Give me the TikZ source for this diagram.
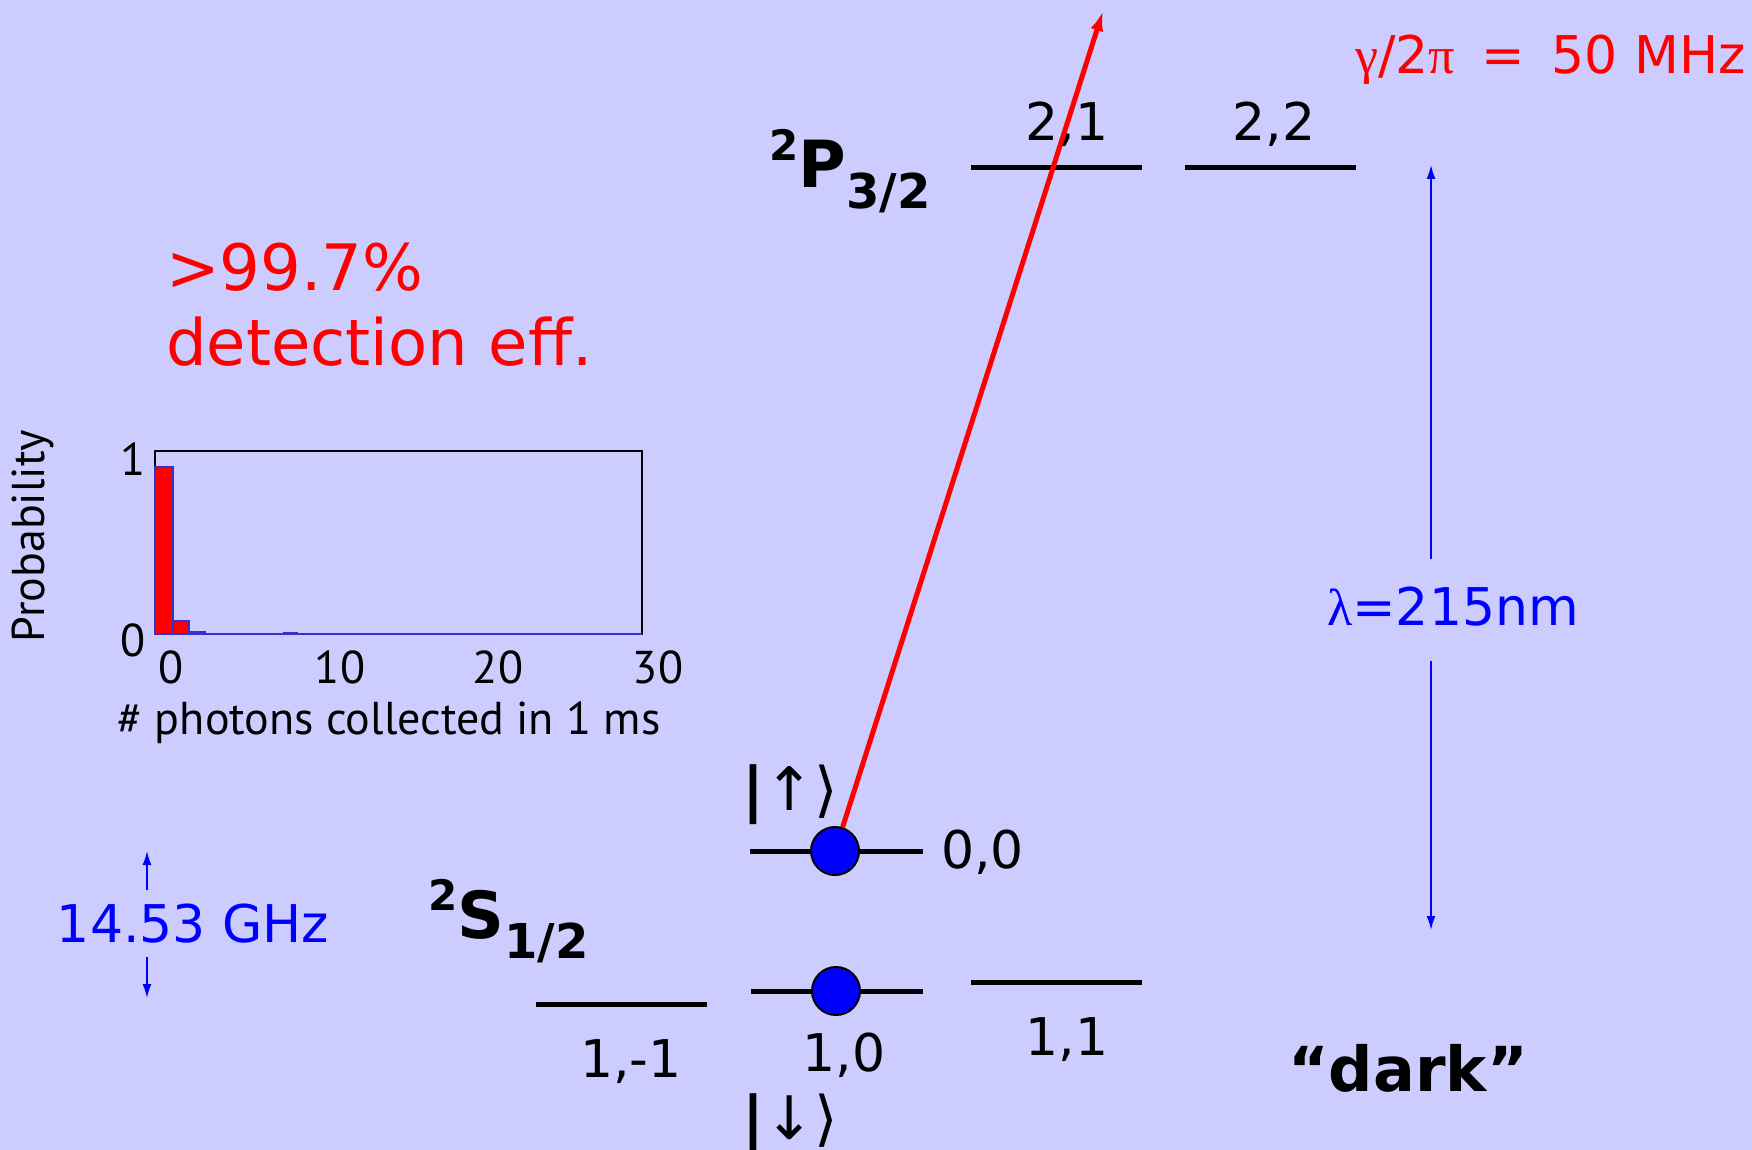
\documentclass[tikz,border=0pt]{standalone}
\usepackage{fontspec}
\setmainfont{DejaVu Sans}
\newfontfamily\histfont{PT Sans}
\newfontfamily\grk{Liberation Serif}
\usetikzlibrary{arrows.meta}
\definecolor{bg}{HTML}{CCCCFF}
\definecolor{myred}{HTML}{FF0000}
\definecolor{myblue}{HTML}{0000FF}
\definecolor{axblue}{HTML}{3333CC}
\newcommand\termsym[3]{\raisebox{0.42em}{\fontsize{42}{42}\selectfont #1}#2\raisebox{-0.32em}{\fontsize{48}{48}\selectfont #3}}
\begin{document}
\begin{tikzpicture}[x=1pt,y=-1pt,
  level/.style={line width=5pt,black},
  lbl/.style={inner sep=0pt,font=\fontsize{52}{52}\selectfont},
  term/.style={inner sep=0pt,font=\fontsize{65}{65}\selectfont\bfseries},
  dot/.style={circle,fill=myblue,draw=black,line width=2pt,minimum size=48pt,inner sep=0pt},
  hist/.style={inner sep=0pt,font=\fontsize{46}{46}\selectfont\histfont},
  redtxt/.style={inner sep=0pt,text=myred,font=\fontsize{64}{64}\selectfont},
  bluetxt/.style={inner sep=0pt,text=myblue,font=\fontsize{52}{52}\selectfont},
  ket/.style={inner sep=0pt,font=\fontsize{60}{60}\selectfont},
  thinarrow/.style={myblue,line width=1.6pt,-{Latex[length=14pt,width=9pt]}}
]
\fill[bg] (0,0) rectangle (1752,1150);
\useasboundingbox (0,0) rectangle (1752,1150);

% P3/2 levels
\coordinate (p21a) at (971,168); \coordinate (p21b) at (1142,168);
\coordinate (p22a) at (1185,168); \coordinate (p22b) at (1356,168);
\draw[level] (p21a) -- (p21b);
\draw[level] (p22a) -- (p22b);
\node[lbl] (l21) at (1067,124) {2,1};
\node[lbl] (l22) at (1274,124) {2,2};
\node[term,anchor=base west] (P32) at (769,188) {\termsym{2}{P}{3/2}};

% S1/2 levels
\coordinate (s00a) at (750,851); \coordinate (s00b) at (923,851);
\coordinate (s10a) at (751,991); \coordinate (s10b) at (923,991);
\coordinate (s1ma) at (536,1004); \coordinate (s1mb) at (707,1004);
\coordinate (s11a) at (971,982); \coordinate (s11b) at (1142,982);
\draw[level] (s00a) -- (s00b);
\draw[level] (s10a) -- (s10b);
\draw[level] (s1ma) -- (s1mb);
\draw[level] (s11a) -- (s11b);
\node[lbl,anchor=west] (l00) at (941,852) {0,0};
\node[lbl] (l10) at (844,1055) {1,0};
\node[lbl] (l1m) at (631,1062) {1,-1};
\node[lbl] (l11) at (1067,1040) {1,1};
\node[term,anchor=base west] (S12) at (428,938) {\termsym{2}{S}{1/2}};

% red transition arrow and dots
\coordinate (tip) at (1103,11);
\node[dot] (up) at (835,851) {};
\draw[myred,line width=5pt,-{Latex[length=20pt,width=13pt]}] (up) -- (tip);
\node[dot] (down) at (836,991) {};

% kets
\node[ket] (ketup) at (790,795) {\textbf{|}↑⟩};
\node[ket] (ketdn) at (790,1124) {\textbf{|}↓⟩};

% gamma label
\node[inner sep=0pt,text=myred,font=\fontsize{52}{52}\selectfont,anchor=east] (gam) at (1746,60) {{\grk γ}/2{\grk π}\hspace{10pt} = \hspace{10pt}50 MHz};

% lambda arrow
\coordinate (lamtop) at (1431,165); \coordinate (lamgapT) at (1431,559);
\coordinate (lamgapB) at (1431,661); \coordinate (lambot) at (1431,930);
\draw[thinarrow] (lamgapT) -- (lamtop);
\draw[thinarrow] (lamgapB) -- (lambot);
\node[bluetxt] (lam) at (1453,607) {{\grk λ}=215nm};

% hyperfine splitting
\node[bluetxt] (ghz) at (193,924) {14.53 GHz};
\coordinate (gu0) at (147,890); \coordinate (gu1) at (147,851);
\coordinate (gd0) at (147,957); \coordinate (gd1) at (147,998);
\draw[thinarrow] (gu0) -- (gu1);
\draw[thinarrow] (gd0) -- (gd1);

% dark
\node[inner sep=0pt,font=\fontsize{62}{62}\selectfont\bfseries] (dark) at (1408,1068) {“dark”};

% detection text
\node[redtxt,anchor=base west] (eff1) at (166,290) {>99.7\%};
\node[redtxt,anchor=base west] (eff2) at (166,365) {detection eff.};

% histogram
\draw[black,line width=1.5pt] (155,451) rectangle (642,634);
\filldraw[fill=myred,draw=axblue,line width=1.5pt] (155,467) rectangle (173,634);
\filldraw[fill=myred,draw=axblue,line width=1.5pt] (173,621) rectangle (189,634);
\filldraw[fill=myred,draw=axblue,line width=1.5pt] (189,632) rectangle (205,634);
\draw[axblue,line width=2.5pt] (155,634) -- (642,634);
\draw[axblue,line width=2.5pt] (283,633) -- (298,633);
\node[hist,anchor=east] (y1) at (146,459) {1};
\node[hist,anchor=east] (y0) at (146,640) {0};
\node[hist] (x0) at (171,667) {0};
\node[hist] (x10) at (340,667) {10};
\node[hist] (x20) at (498,667) {20};
\node[hist] (x30) at (658,667) {30};
\node[hist] (xlab) at (389,723) {\# photons collected in 1 ms};
\node[hist,rotate=90] (ylab) at (33,536) {Probability};
\end{tikzpicture}
\end{document}
